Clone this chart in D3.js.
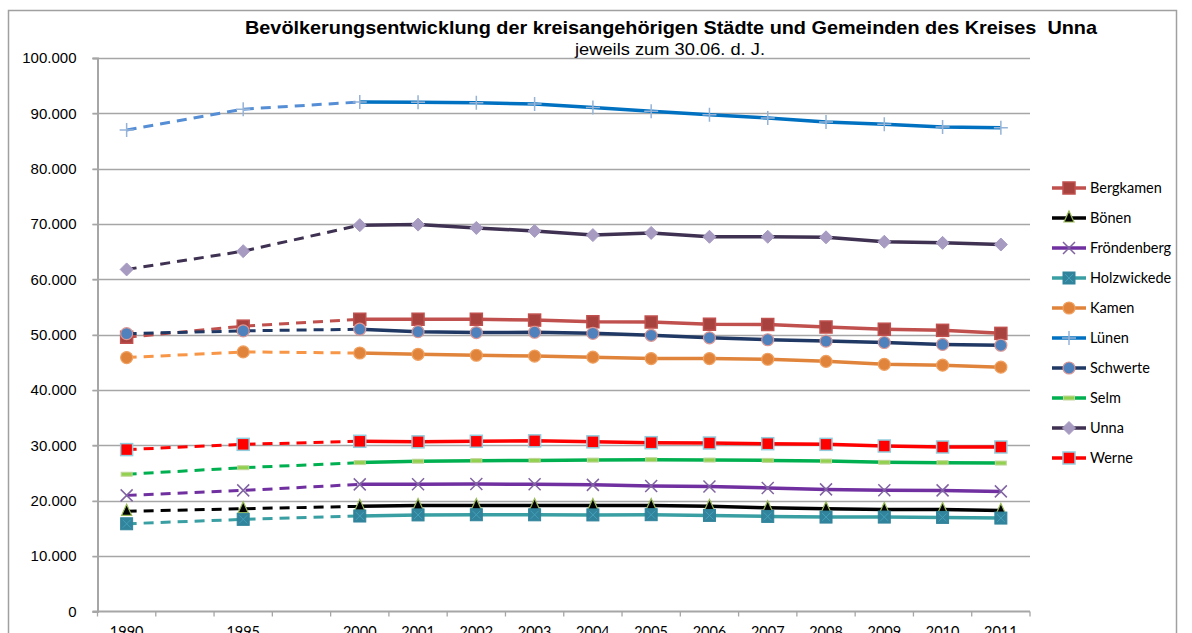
<!DOCTYPE html>
<html>
<head>
<meta charset="utf-8">
<script src="https://cdnjs.cloudflare.com/ajax/libs/d3/7.8.5/d3.min.js"></script>
<style>
    body { margin: 0; background: #ffffff; }
    svg { display: block; }
</style>
</head>
<body>
<svg id="chart" width="1192" height="633"></svg>
<script>
// Kategorien der x-Achse (leere Felder = Lücken zwischen 1990/1995/2000)
var categories = ["1990", "", "1995", "", "2000", "2001", "2002", "2003", "2004", "2005", "2006", "2007", "2008", "2009", "2010", "2011"];
var years = ["1990", "1995", "2000", "2001", "2002", "2003", "2004", "2005", "2006", "2007", "2008", "2009", "2010", "2011"];
var yTicks = [0, 10000, 20000, 30000, 40000, 50000, 60000, 70000, 80000, 90000, 100000];

var bergkamen   = [49550, 51550, 52800, 52800, 52800, 52650, 52350, 52300, 51900, 51850, 51400, 51000, 50800, 50250];
var boenen      = [18100, 18570, 19000, 19150, 19150, 19150, 19150, 19150, 19000, 18750, 18570, 18450, 18450, 18270];
var froendenberg= [20980, 21880, 22970, 22980, 23020, 23000, 22880, 22680, 22600, 22320, 22060, 21900, 21880, 21700];
var holzwickede = [15850, 16650, 17250, 17450, 17480, 17470, 17450, 17490, 17360, 17180, 17060, 17060, 17000, 16880];
var kamen       = [45870, 46900, 46700, 46470, 46300, 46150, 45950, 45700, 45700, 45570, 45200, 44650, 44500, 44150];
var luenen      = [87000, 90750, 92050, 92000, 91900, 91700, 91050, 90400, 89750, 89150, 88450, 88050, 87550, 87400];
var schwerte    = [50200, 50700, 51000, 50550, 50400, 50450, 50250, 49900, 49450, 49100, 48850, 48600, 48250, 48100];
var selm        = [24800, 25980, 26900, 27150, 27250, 27300, 27350, 27430, 27360, 27300, 27180, 26950, 26890, 26820];
var unna        = [61800, 65100, 69800, 69900, 69300, 68750, 68000, 68400, 67700, 67700, 67600, 66800, 66600, 66300];
var werne       = [29250, 30200, 30750, 30650, 30750, 30830, 30650, 30500, 30440, 30320, 30200, 29900, 29720, 29720];

var seriesNames = ["Bergkamen", "Bönen", "Fröndenberg", "Holzwickede", "Kamen", "Lünen", "Schwerte", "Selm", "Unna", "Werne"];
var seriesValues = [bergkamen, boenen, froendenberg, holzwickede, kamen, luenen, schwerte, selm, unna, werne];

// Darstellung je Reihe
var seriesStyle = {
    "Bergkamen":   {line: "#c0504d", dash: "#c0504d", marker: "square",   fill: "#a8423f", stroke: "#c0504d", size: 12},
    "Bönen":       {line: "#000000", dash: "#000000", marker: "triangle", fill: "#000000", stroke: "#9bbb59", size: 12},
    "Fröndenberg": {line: "#7030a0", dash: "#7030a0", marker: "x",        fill: "none",    stroke: "#8064a2", size: 12},
    "Holzwickede": {line: "#3a9fa3", dash: "#3a9fa3", marker: "squarex",  fill: "#31849b", stroke: "#4bacc6", size: 12},
    "Kamen":       {line: "#e0843b", dash: "#f79646", marker: "circle",   fill: "#e0843b", stroke: "#f0a060", size: 12},
    "Lünen":       {line: "#0070c0", dash: "#558ed5", marker: "plus",     fill: "none",    stroke: "#95b3d7", size: 14},
    "Schwerte":    {line: "#1f3864", dash: "#1f3864", marker: "circle",   fill: "#4f81bd", stroke: "#d99694", size: 12},
    "Selm":        {line: "#00b050", dash: "#00b050", marker: "dash",     fill: "#92d050", stroke: "#c3d69b", size: 11},
    "Unna":        {line: "#3f3151", dash: "#3f3151", marker: "diamond",  fill: "#a79bc2", stroke: "#a79bc2", size: 13},
    "Werne":       {line: "#ff0000", dash: "#ff0000", marker: "square",   fill: "#ff0000", stroke: "#93cddd", size: 12}
};

var yearIndex = [0, 2, 4, 5, 6, 7, 8, 9, 10, 11, 12, 13, 14, 15];

var svg = d3.select("#chart");
var plot = {left: 97.5, right: 1030, top: 58, bottom: 611.5};

var x = d3.scalePoint()
    .domain(d3.range(categories.length))
    .range([plot.left, plot.right])
    .padding(0.5);
var xBand = d3.scaleBand()
    .domain(d3.range(categories.length))
    .range([plot.left, plot.right]);
var y = d3.scaleLinear()
    .domain([0, 100000])
    .range([plot.bottom, plot.top]);

var de = d3.formatLocale({decimal: ",", thousands: ".", grouping: [3], currency: ["", " €"]});
var fmt = de.format(",d");

// Rahmen
svg.append("rect")
    .attr("x", 8.5).attr("y", 10.5)
    .attr("width", 1168).attr("height", 660)
    .attr("fill", "#ffffff")
    .attr("stroke", "#a0a0a0")
    .attr("stroke-width", 1.5);

// Titel
svg.append("text")
    .attr("x", 671).attr("y", 34)
    .attr("text-anchor", "middle")
    .attr("textLength", 852)
    .attr("lengthAdjust", "spacingAndGlyphs")
    .style("font-family", "'Liberation Sans', Arial, sans-serif")
    .style("font-weight", "bold")
    .style("font-size", "18.5px")
    .style("white-space", "pre")
    .text("Bevölkerungsentwicklung der kreisangehörigen Städte und Gemeinden des Kreises  Unna");
svg.append("text")
    .attr("x", 670).attr("y", 55)
    .attr("text-anchor", "middle")
    .attr("textLength", 190)
    .attr("lengthAdjust", "spacingAndGlyphs")
    .style("font-family", "'Liberation Sans', Arial, sans-serif")
    .style("font-size", "16.5px")
    .text("jeweils zum 30.06. d. J.");

// Gitterlinien
svg.append("g")
    .selectAll("line")
    .data(yTicks.slice(1))
    .enter().append("line")
    .attr("x1", plot.left - 5).attr("x2", plot.right)
    .attr("y1", function (d) { return Math.round(y(d)) + 0.5; })
    .attr("y2", function (d) { return Math.round(y(d)) + 0.5; })
    .attr("stroke", "#a6a6a6")
    .attr("stroke-width", 1.3);

// y-Achse
var yAxis = svg.append("g")
    .attr("transform", "translate(" + plot.left + ",0)")
    .call(d3.axisLeft(y).tickValues(yTicks).tickFormat(fmt).tickSize(5).tickPadding(8));
yAxis.select(".domain").attr("stroke", "#a6a6a6").attr("stroke-width", 2);
yAxis.selectAll(".tick line").attr("stroke", "#a6a6a6").attr("stroke-width", 1.3);
yAxis.selectAll("text")
    .attr("x", -21)
    .style("font-family", "'Liberation Sans', Arial, sans-serif")
    .style("font-size", "15px")
    .attr("fill", "#000000");

// x-Achse
var xAxis = svg.append("g")
    .attr("transform", "translate(0," + plot.bottom + ")");
xAxis.append("line")
    .attr("x1", plot.left - 5).attr("x2", plot.right)
    .attr("y1", 0).attr("y2", 0)
    .attr("stroke", "#a6a6a6").attr("stroke-width", 2);
xAxis.selectAll("line.tick")
    .data(d3.range(categories.length + 1))
    .enter().append("line")
    .classed("tick", true)
    .attr("x1", function (d) { return d < categories.length ? xBand(d) : plot.right; })
    .attr("x2", function (d) { return d < categories.length ? xBand(d) : plot.right; })
    .attr("y1", 0).attr("y2", 5)
    .attr("stroke", "#a6a6a6").attr("stroke-width", 1.3);
xAxis.selectAll("text")
    .data(d3.range(categories.length))
    .enter().append("text")
    .attr("x", function (d) { return x(d); })
    .attr("y", 25)
    .attr("text-anchor", "middle")
    .style("font-family", "Lato, 'Open Sans', sans-serif")
    .style("font-size", "14.5px")
    .text(function (d) { return categories[d]; });

// Markersymbol zeichnen
function drawMarker(g, st, cx, cy) {
    var s = st.size, h = s / 2;
    if (st.marker == "square") {
        g.append("rect").attr("x", cx - h).attr("y", cy - h).attr("width", s).attr("height", s)
            .attr("fill", st.fill).attr("stroke", st.stroke).attr("stroke-width", 1.5);
    } else if (st.marker == "squarex") {
        g.append("rect").attr("x", cx - h).attr("y", cy - h).attr("width", s).attr("height", s)
            .attr("fill", st.fill).attr("stroke", st.fill).attr("stroke-width", 1);
        g.append("path").attr("d", "M" + (cx - h + 2) + "," + (cy - h + 2) + "L" + (cx + h - 2) + "," + (cy + h - 2) +
            "M" + (cx + h - 2) + "," + (cy - h + 2) + "L" + (cx - h + 2) + "," + (cy + h - 2))
            .attr("stroke", st.stroke).attr("stroke-width", 1).attr("opacity", 0.7);
    } else if (st.marker == "circle") {
        g.append("circle").attr("cx", cx).attr("cy", cy).attr("r", h)
            .attr("fill", st.fill).attr("stroke", st.stroke).attr("stroke-width", 1.2);
    } else if (st.marker == "diamond") {
        g.append("path").attr("d", "M" + cx + "," + (cy - h) + "L" + (cx + h) + "," + cy + "L" + cx + "," + (cy + h) + "L" + (cx - h) + "," + cy + "Z")
            .attr("fill", st.fill).attr("stroke", st.stroke).attr("stroke-width", 1);
    } else if (st.marker == "triangle") {
        g.append("path").attr("d", "M" + cx + "," + (cy - h - 1) + "L" + (cx + h - 1) + "," + (cy + h - 2) + "L" + (cx - h + 1) + "," + (cy + h - 2) + "Z")
            .attr("fill", st.fill).attr("stroke", st.stroke).attr("stroke-width", 1.2);
    } else if (st.marker == "x") {
        g.append("path").attr("d", "M" + (cx - h) + "," + (cy - h) + "L" + (cx + h) + "," + (cy + h) + "M" + (cx + h) + "," + (cy - h) + "L" + (cx - h) + "," + (cy + h))
            .attr("stroke", st.stroke).attr("stroke-width", 1.5);
    } else if (st.marker == "plus") {
        g.append("path").attr("d", "M" + (cx - h) + "," + cy + "L" + (cx + h) + "," + cy + "M" + cx + "," + (cy - h) + "L" + cx + "," + (cy + h))
            .attr("stroke", st.stroke).attr("stroke-width", 1.5);
    } else if (st.marker == "dash") {
        g.append("rect").attr("x", cx - h).attr("y", cy - 2).attr("width", s).attr("height", 4)
            .attr("fill", st.fill).attr("stroke", st.stroke).attr("stroke-width", 1);
    }
}

var line = d3.line()
    .x(function (d) { return x(d.i); })
    .y(function (d) { return y(d.v); });

// Reihen zeichnen
seriesNames.map(function (name, k) {
    var st = seriesStyle[name];
    var pts = seriesValues[k].map(function (v, j) { return {i: yearIndex[j], v: v}; });
    var g = svg.append("g").classed("series", true);

    g.append("path")
        .attr("d", line(pts.slice(0, 3)))
        .attr("fill", "none")
        .attr("stroke", st.dash)
        .attr("stroke-width", 3)
        .attr("stroke-dasharray", "10,7");
    g.append("path")
        .attr("d", line(pts.slice(2)))
        .attr("fill", "none")
        .attr("stroke", st.line)
        .attr("stroke-width", 3.5)
        .attr("stroke-linejoin", "round");

    pts.map(function (p) {
        drawMarker(g, st, x(p.i), y(p.v));
    });
});

// Legende
var legend = svg.append("g").attr("transform", "translate(1052,188)");
seriesNames.map(function (name, k) {
    var st = seriesStyle[name];
    var lg = legend.append("g").attr("transform", "translate(0," + (k * 30) + ")");
    lg.append("line")
        .attr("x1", 0).attr("x2", 34).attr("y1", 0).attr("y2", 0)
        .attr("stroke", st.line).attr("stroke-width", 3.5);
    drawMarker(lg, st, 17, 0);
    lg.append("text")
        .attr("x", 38).attr("y", 5)
        .style("font-family", "Lato, 'Open Sans', sans-serif")
        .style("font-size", "14.5px")
        .text(name);
});
</script>
</body>
</html>
